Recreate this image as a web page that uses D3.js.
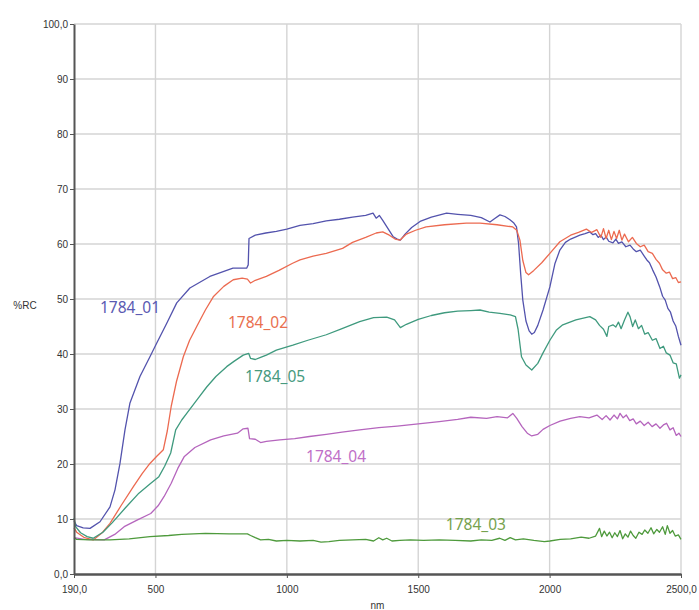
<!DOCTYPE html>
<html>
<head>
<meta charset="utf-8">
<script src="https://cdn.jsdelivr.net/npm/d3@7"></script>
<style>
  body { margin: 0; background: #fff; }
  svg { display: block; }
  .grid line { stroke: #d4d4d4; stroke-width: 1.4; }
  .axis path, .axis line { stroke: #555; }
  .axis text { font-family: "Liberation Sans", Arial, sans-serif; font-size: 10px; fill: #333; }
  .curve { fill: none; stroke-width: 1.3; stroke-linejoin: round; }
  .tag { font-family: "Noto Sans", sans-serif; font-size: 15.5px; }
</style>
</head>
<body>
<div id="chart"></div>
<script>
// wavelength range and tick labels
const xDomain = [190, 2500];
const yDomain = [0, 100];
const xTicks = [190, 500, 1000, 1500, 2000, 2500];
const xTickLabels = ["190,0", "500", "1000", "1500", "2000", "2500,0"];
const yTicks = [0, 10, 20, 30, 40, 50, 60, 70, 80, 90, 100];
const yTickLabels = ["0,0", "10", "20", "30", "40", "50", "60", "70", "80", "90", "100,0"];

// [nm, %R]
const s01 = [[190,9.6],[200,8.8],[225,8.4],[251,8.3],[289,9.5],[327,12.2],[346,15.3],[365,20.1],[384,26.2],[403,31.1],[441,35.9],[479,39.5],[505,42.0],[543,45.6],[581,49.3],[631,52.0],[707,54.1],[795,55.6],[847,55.6],[853,56.2],[856,61.0],[880,61.6],[920,62.0],[960,62.3],[1000,62.7],[1050,63.4],[1100,63.7],[1150,64.2],[1200,64.5],[1250,64.9],[1300,65.2],[1328,65.6],[1340,64.7],[1352,65.2],[1365,64.3],[1385,62.8],[1405,61.3],[1420,60.9],[1432,60.7],[1450,61.8],[1475,63.0],[1507,64.1],[1550,64.9],[1608,65.6],[1650,65.4],[1700,65.2],[1740,64.8],[1773,64.0],[1790,64.6],[1811,65.3],[1830,65.0],[1849,64.4],[1864,63.8],[1874,63.1],[1882,60.0],[1890,54.5],[1898,49.8],[1910,46.0],[1922,44.2],[1932,43.6],[1942,43.9],[1955,45.2],[1975,48.0],[2001,52.2],[2020,56.4],[2039,58.9],[2060,60.3],[2080,60.9],[2100,61.3],[2115,61.6],[2135,61.9],[2153,62.2],[2165,61.7],[2175,61.9],[2185,61.2],[2195,61.6],[2205,60.8],[2215,61.3],[2225,60.5],[2241,60.2],[2252,60.9],[2262,60.1],[2275,60.4],[2290,59.5],[2306,59.8],[2318,59.1],[2330,58.6],[2345,58.9],[2360,57.8],[2370,57.1],[2380,56.6],[2392,55.3],[2405,54.0],[2419,52.2],[2430,50.5],[2440,49.8],[2450,48.3],[2460,47.6],[2470,46.0],[2480,45.1],[2490,43.2],[2500,41.6]];
const s02 = [[190,8.4],[200,7.6],[230,6.6],[263,6.2],[295,7.4],[327,9.2],[370,12.5],[416,15.9],[450,18.3],[479,20.1],[505,21.4],[530,22.6],[545,26],[560,30.5],[580,35],[606,39.5],[630,42.5],[657,45],[690,48],[720,50.4],[760,52.3],[796,53.5],[830,53.8],[850,53.6],[862,52.9],[880,53.4],[922,54.1],[970,55.2],[1022,56.5],[1050,57.1],[1100,57.8],[1150,58.3],[1212,59.2],[1250,60.3],[1300,61.2],[1340,62],[1365,62.2],[1390,61.6],[1412,60.9],[1430,60.7],[1455,61.8],[1490,62.5],[1530,63.1],[1600,63.5],[1683,63.8],[1735,63.8],[1800,63.5],[1860,63.1],[1875,62.5],[1887,60.7],[1898,57],[1910,54.8],[1920,54.4],[1940,55.2],[1970,56.6],[2001,58.3],[2039,60.4],[2080,61.6],[2110,62.1],[2140,62.7],[2160,62.1],[2180,62.6],[2195,61.2],[2205,62.8],[2215,61.0],[2225,62.5],[2235,60.8],[2245,62.3],[2255,61.0],[2265,62.5],[2275,60.7],[2285,61.8],[2300,60.4],[2315,61.2],[2330,60.1],[2345,59.5],[2360,59.8],[2375,58.6],[2391,58.3],[2405,57.2],[2418,56.5],[2430,55.3],[2444,54.7],[2456,54.9],[2468,53.7],[2480,53.9],[2490,53.0],[2500,53.1]];
const s05 = [[190,10.2],[196,8.6],[215,7.5],[240,6.8],[263,6.5],[300,7.6],[335,9.3],[385,12],[437,14.7],[480,16.4],[513,17.7],[535,19.6],[558,22],[577,26.2],[600,28],[619,29.2],[660,31.8],[695,34],[730,35.9],[771,37.7],[800,38.7],[834,39.8],[855,40.1],[862,39.2],[880,39.0],[900,39.4],[922,39.8],[960,40.7],[1023,41.6],[1080,42.5],[1150,43.5],[1210,44.6],[1277,45.9],[1330,46.6],[1380,46.7],[1410,46.2],[1432,44.8],[1455,45.4],[1500,46.3],[1550,47],[1600,47.5],[1650,47.8],[1700,47.9],[1735,48],[1770,47.6],[1811,47.4],[1850,47.1],[1870,46.8],[1880,44.5],[1893,39.5],[1910,38],[1932,37.1],[1955,38.3],[1975,40.2],[2001,42.5],[2025,44.3],[2050,45.3],[2100,46.2],[2153,46.8],[2175,46.2],[2190,45.2],[2205,44.5],[2218,43.2],[2225,45.0],[2241,45.3],[2252,44.9],[2262,45.8],[2272,44.6],[2285,46.2],[2298,47.6],[2306,46.8],[2316,45.0],[2326,46.2],[2338,44.6],[2350,45.2],[2362,43.6],[2375,43.9],[2391,42.5],[2405,42.8],[2420,41.0],[2433,41.4],[2444,40.2],[2458,39.8],[2470,38.4],[2482,38.2],[2494,35.6],[2500,36.2]];
const s04 = [[190,6.6],[230,6.3],[305,6.2],[345,7.2],[381,8.6],[430,9.8],[482,11],[510,12.4],[533,14.1],[560,16.5],[585,19.2],[609,21.3],[650,23],[710,24.4],[760,25.1],[812,25.6],[834,26.4],[852,26.5],[858,24.6],[880,24.5],[900,23.9],[922,24.1],[973,24.4],[1030,24.6],[1086,25],[1150,25.4],[1210,25.8],[1277,26.2],[1350,26.6],[1420,26.9],[1500,27.3],[1580,27.7],[1650,28.1],[1700,28.5],[1760,28.3],[1800,28.6],[1840,28.4],[1860,29.2],[1875,28.3],[1895,26.8],[1915,25.6],[1932,25.1],[1955,25.4],[1975,26.3],[2001,27],[2040,27.8],[2080,28.3],[2115,28.6],[2150,28.4],[2180,28.9],[2200,28.1],[2215,28.8],[2230,28.0],[2245,28.9],[2258,28.2],[2268,29.2],[2280,28.4],[2292,28.9],[2305,27.9],[2318,28.2],[2330,27.3],[2345,27.8],[2360,27.0],[2375,27.6],[2390,26.8],[2405,27.3],[2420,26.5],[2433,27.1],[2445,27.4],[2458,26.2],[2470,26.6],[2482,25.2],[2492,25.6],[2500,25.0]];
const s03 = [[190,6.6],[200,6.3],[250,6.2],[327,6.2],[400,6.4],[479,6.8],[550,7],[600,7.2],[690,7.4],[780,7.3],[850,7.3],[862,7],[880,6.6],[900,6.2],[930,6.3],[960,6],[1000,6.1],[1050,6],[1100,6.1],[1130,5.8],[1160,5.9],[1200,6.1],[1250,6.2],[1300,6.3],[1330,6],[1350,6.6],[1365,6.2],[1380,6.5],[1400,6],[1430,6.1],[1470,6.2],[1520,6.1],[1580,6.2],[1640,6.1],[1700,6],[1740,6.2],[1780,6.1],[1810,6.5],[1830,6.1],[1850,6.6],[1870,6.2],[1900,6.4],[1940,6.1],[1980,5.9],[2001,6],[2040,6.3],[2080,6.4],[2120,6.7],[2150,6.5],[2175,6.9],[2190,8.3],[2198,6.8],[2208,7.8],[2218,6.9],[2228,7.6],[2238,6.6],[2248,7.5],[2258,6.8],[2268,7.9],[2278,6.4],[2288,7.3],[2298,6.7],[2308,7.8],[2318,7.0],[2328,6.5],[2340,7.6],[2352,7.2],[2362,8.0],[2374,7.4],[2386,8.4],[2396,7.3],[2408,8.1],[2418,7.6],[2430,8.6],[2440,7.2],[2448,8.8],[2458,7.4],[2468,7.9],[2478,6.9],[2490,7.1],[2500,6.3]];

const seriesNames = ["1784_01", "1784_02", "1784_05", "1784_04", "1784_03"];
const seriesData = [s01, s02, s05, s04, s03];
const lineColors = ["#5353ad", "#ec6a50", "#3f9a7e", "#b565bd", "#4e9a3c"];
const tagColors = ["#5a5ab2", "#e9704f", "#479a7e", "#c070c8", "#76a24e"];
// where each curve name sits, in chart units [nm, %R]
const tagAnchors = [[289, 48.4], [776, 45.7], [841, 35.9], [1073, 21.4], [1605, 8.9]];

const W = 699, H = 610;
const margin = {top: 24, right: 18, bottom: 36, left: 74};
const width = W - margin.left - margin.right;
const height = H - margin.top - margin.bottom;

const svg = d3.select("#chart").append("svg")
  .attr("width", W)
  .attr("height", H);

const g = svg.append("g")
  .attr("transform", "translate(" + margin.left + "," + margin.top + ")");

const x = d3.scaleLinear().domain(xDomain).range([0, width]);
const y = d3.scaleLinear().domain(yDomain).range([height, 0]);

// grid
const grid = g.append("g").attr("class", "grid");
grid.selectAll("line.h")
  .data(yTicks.slice(1))
  .join("line")
  .attr("class", "h")
  .attr("x1", 0).attr("x2", width)
  .attr("y1", d => y(d)).attr("y2", d => y(d));
grid.selectAll("line.v")
  .data(xTicks.slice(1))
  .join("line")
  .attr("class", "v")
  .attr("x1", d => x(d)).attr("x2", d => x(d))
  .attr("y1", 0).attr("y2", height);

// curves
const line = d3.line()
  .x(d => x(d[0]))
  .y(d => y(d[1]));

g.append("g")
  .selectAll("path")
  .data(seriesData)
  .join("path")
  .attr("class", "curve")
  .attr("stroke", (d, i) => lineColors[i])
  .attr("d", line);

// axes
const yAxis = g.append("g")
  .attr("class", "axis")
  .call(d3.axisLeft(y)
    .tickValues(yTicks)
    .tickFormat((d, i) => yTickLabels[i])
    .tickSize(4)
    .tickSizeOuter(0)
    .tickPadding(2));
yAxis.select(".domain").attr("stroke-width", 2);

const xAxis = g.append("g")
  .attr("class", "axis")
  .attr("transform", "translate(0," + height + ")")
  .call(d3.axisBottom(x)
    .tickValues(xTicks)
    .tickFormat((d, i) => xTickLabels[i])
    .tickSize(4)
    .tickSizeOuter(0)
    .tickPadding(8));
xAxis.select(".domain").attr("stroke-width", 2.5);

// curve names
g.append("g")
  .selectAll("text")
  .data(seriesNames)
  .join("text")
  .attr("class", "tag")
  .attr("x", (d, i) => x(tagAnchors[i][0]))
  .attr("y", (d, i) => y(tagAnchors[i][1]))
  .attr("dy", "0.35em")
  .attr("fill", (d, i) => tagColors[i])
  .text(d => d);

// axis titles
svg.append("text")
  .attr("x", 25)
  .attr("y", margin.top + y(50) + 10)
  .attr("text-anchor", "middle")
  .style("font-family", "Liberation Sans, Arial, sans-serif")
  .style("font-size", "10px")
  .attr("fill", "#333")
  .text("%RC");

svg.append("text")
  .attr("x", margin.left + x(1345))
  .attr("y", H - 1)
  .attr("text-anchor", "middle")
  .style("font-family", "Liberation Sans, Arial, sans-serif")
  .style("font-size", "10px")
  .attr("fill", "#333")
  .text("nm");
</script>
</body>
</html>
